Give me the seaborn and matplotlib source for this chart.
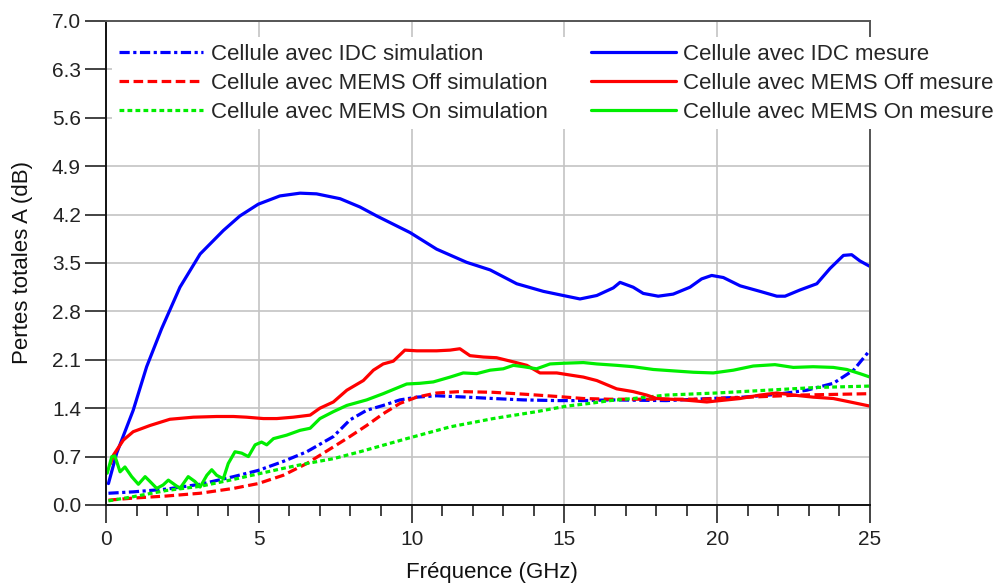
import numpy as np
import pandas as pd
import seaborn as sns
import matplotlib.pyplot as plt
from matplotlib.ticker import MultipleLocator

# --- donnees (GHz, dB) ---
idc_mes_x = [0.08, 0.35, 0.89, 1.33, 1.82, 2.42, 3.08, 3.84, 4.38, 4.98, 5.69, 6.35, 6.89, 7.66,
             8.31, 8.86, 9.95, 10.82, 11.80, 12.57, 13.44, 14.31, 14.96, 15.51, 16.06, 16.60,
             16.82, 17.25, 17.58, 18.07, 18.56, 19.11, 19.49, 19.82, 20.20, 20.75, 21.40, 21.95,
             22.22, 22.71, 23.26, 23.69, 24.13, 24.40, 24.67, 25.0]
idc_mes_y = [0.31, 0.75, 1.37, 2.0, 2.55, 3.15, 3.63, 3.97, 4.18, 4.35, 4.47, 4.51, 4.50, 4.43,
             4.31, 4.18, 3.94, 3.70, 3.51, 3.40, 3.20, 3.09, 3.03, 2.98, 3.03, 3.14,
             3.22, 3.15, 3.06, 3.02, 3.05, 3.15, 3.27, 3.32, 3.29, 3.17, 3.09, 3.02,
             3.02, 3.11, 3.20, 3.42, 3.61, 3.62, 3.53, 3.45]

off_mes_x = [0.15, 0.24, 0.57, 0.89, 1.44, 2.09, 2.86, 3.62, 4.17, 4.60, 5.15, 5.59, 6.13, 6.68,
             7.0, 7.44, 7.88, 8.42, 8.75, 9.07, 9.40, 9.78, 10.17, 10.82, 11.26, 11.58, 11.91,
             12.35, 12.78, 13.33, 13.77, 14.20, 14.75, 15.18, 15.62, 16.06, 16.71, 17.25, 17.69,
             18.02, 18.89, 19.66, 20.09, 20.75, 21.40, 21.95, 22.49, 23.14, 23.80, 24.35, 25.0]
off_mes_y = [0.60, 0.72, 0.94, 1.06, 1.15, 1.24, 1.27, 1.28, 1.28, 1.27, 1.25, 1.25, 1.27, 1.30,
             1.40, 1.49, 1.66, 1.80, 1.95, 2.04, 2.08, 2.24, 2.23, 2.23, 2.24, 2.26, 2.16,
             2.14, 2.13, 2.07, 2.02, 1.91, 1.91, 1.88, 1.85, 1.80, 1.68, 1.64, 1.59,
             1.54, 1.52, 1.49, 1.51, 1.54, 1.59, 1.62, 1.59, 1.56, 1.54, 1.49, 1.43]

on_mes_x = [0.04, 0.19, 0.29, 0.46, 0.62, 0.84, 1.06, 1.28, 1.44, 1.66, 1.87, 2.04, 2.26, 2.42,
            2.69, 2.91, 3.08, 3.30, 3.46, 3.62, 3.84, 4.00, 4.22, 4.44, 4.66, 4.88, 5.09, 5.26,
            5.48, 5.91, 6.35, 6.68, 7.0, 7.44, 7.88, 8.53, 9.07, 9.40, 9.84, 10.27, 10.71,
            11.26, 11.69, 12.13, 12.57, 13.0, 13.33, 13.66, 14.09, 14.53, 14.96, 15.62, 16.06,
            16.71, 17.25, 17.91, 18.56, 19.22, 19.87, 20.53, 21.18, 21.89, 22.49, 23.14, 23.80,
            24.24, 24.67, 25.0]
on_mes_y = [0.46, 0.70, 0.71, 0.48, 0.55, 0.41, 0.30, 0.41, 0.34, 0.24, 0.29, 0.36, 0.29, 0.24,
            0.41, 0.34, 0.26, 0.43, 0.51, 0.43, 0.38, 0.60, 0.77, 0.75, 0.70, 0.87, 0.91, 0.87,
            0.96, 1.01, 1.08, 1.11, 1.25, 1.35, 1.44, 1.52, 1.61, 1.67, 1.75, 1.76, 1.78,
            1.85, 1.91, 1.90, 1.95, 1.97, 2.02, 2.00, 1.97, 2.04, 2.05, 2.06, 2.04,
            2.02, 2.00, 1.96, 1.94, 1.92, 1.91, 1.95, 2.01, 2.03, 1.99, 2.00, 1.99,
            1.96, 1.90, 1.85]

idc_sim_x = [0.08, 0.89, 1.98, 3.08, 4.17, 4.98, 5.80, 6.57, 7.44, 7.98, 8.53, 9.07, 9.62, 10.17,
             10.82, 11.80, 12.67, 13.66, 14.75, 15.62, 16.49, 18.34, 19.76, 20.86, 21.95, 22.93,
             23.80, 24.46, 25.0]
idc_sim_y = [0.17, 0.19, 0.23, 0.30, 0.41, 0.50, 0.63, 0.77, 0.99, 1.23, 1.37, 1.44, 1.52, 1.56,
             1.58, 1.56, 1.54, 1.52, 1.51, 1.51, 1.52, 1.51, 1.54, 1.56, 1.60, 1.66,
             1.76, 1.95, 2.24]

off_sim_x = [0.08, 0.89, 1.98, 3.08, 4.17, 4.98, 5.80, 6.57, 7.44, 7.98, 8.53, 9.07, 9.62, 10.17,
             10.82, 11.58, 12.67, 13.77, 14.75, 15.62, 16.49, 17.80, 19.44, 21.07, 22.71, 25.0]
off_sim_y = [0.07, 0.10, 0.13, 0.17, 0.24, 0.31, 0.43, 0.60, 0.84, 0.99, 1.15, 1.32, 1.47, 1.56,
             1.62, 1.64, 1.63, 1.60, 1.57, 1.54, 1.53, 1.53, 1.53, 1.56, 1.59, 1.61]

on_sim_x = [0.08, 0.89, 1.98, 3.08, 4.17, 4.98, 5.80, 6.57, 7.44, 8.31, 9.84, 11.26, 12.67, 14.09,
            15.07, 15.84, 16.49, 17.25, 18.34, 19.98, 21.62, 23.26, 25.0]
on_sim_y = [0.06, 0.12, 0.21, 0.27, 0.37, 0.45, 0.53, 0.60, 0.67, 0.77, 0.96, 1.13, 1.25, 1.35,
            1.43, 1.47, 1.51, 1.54, 1.59, 1.62, 1.66, 1.70, 1.72]

y_ticks = [0.0, 0.7, 1.4, 2.1, 2.8, 3.5, 4.2, 4.9, 5.6, 6.3, 7.0]

sns.set_style("white")
plt.rcParams['font.family'] = ['Liberation Sans', 'DejaVu Sans']

fig = plt.figure(figsize=(10.08, 5.86), dpi=100)
ax = fig.add_axes([106 / 1008, 1 - 505 / 586, 764 / 1008, 484 / 586])

blue, red, green = '#0000ff', '#ff0000', '#00ee00'
lw = 2.3

# simulations
sns.lineplot(x=idc_sim_x, y=idc_sim_y, ax=ax, color=blue, lw=lw,
             label='Cellule avec IDC simulation').lines[-1].set_dashes([3.2, 1.1, 1.0, 1.1])
sns.lineplot(x=off_sim_x, y=off_sim_y, ax=ax, color=red, lw=lw,
             label='Cellule avec MEMS Off simulation').lines[-1].set_dashes([3.0, 1.4])
sns.lineplot(x=on_sim_x, y=on_sim_y, ax=ax, color=green, lw=lw,
             label='Cellule avec MEMS On simulation').lines[-1].set_dashes([1.5, 1.0])
# mesures
sns.lineplot(x=idc_mes_x, y=idc_mes_y, ax=ax, color=blue, lw=lw, label='Cellule avec IDC mesure')
sns.lineplot(x=off_mes_x, y=off_mes_y, ax=ax, color=red, lw=lw, label='Cellule avec MEMS Off mesure')
sns.lineplot(x=on_mes_x, y=on_mes_y, ax=ax, color=green, lw=lw, label='Cellule avec MEMS On mesure')

ax.set_xlim(0, 25)
ax.set_ylim(0, 7.0)
ax.xaxis.set_major_locator(MultipleLocator(5))
ax.xaxis.set_minor_locator(MultipleLocator(1))
ax.set_yticks(y_ticks)
ax.set_yticklabels([f'{v:.1f}' for v in y_ticks])

ax.grid(True, which='major', color='#c4c4c4', lw=1.2)
ax.tick_params(axis='x', which='major', direction='out', length=13, width=1.2, pad=5,
               labelsize=15, colors='#222222', bottom=True)
ax.tick_params(axis='x', which='minor', direction='out', length=8, width=1.2, bottom=True,
               colors='#222222')
ax.tick_params(axis='y', which='major', direction='out', length=15, width=1.2, pad=3,
               labelsize=15, colors='#222222', left=True)

for s in ['left', 'bottom']:
    ax.spines[s].set_color('#111111')
    ax.spines[s].set_linewidth(1.4)
for s in ['top', 'right']:
    ax.spines[s].set_color('#555555')
    ax.spines[s].set_linewidth(1.4)

ax.set_xlabel('Fréquence (GHz)', fontsize=16, color='#111111')
ax.set_ylabel('Pertes totales A (dB)', fontsize=16, color='#111111')
ax.xaxis.set_label_coords(0.505, -0.118)
ax.yaxis.set_label_coords(-0.0955, 0.5)

leg = ax.legend(ncol=2, loc='upper left', bbox_to_anchor=(112 / 1008, 1 - 37 / 586),
                bbox_transform=fig.transFigure, fontsize=16, frameon=True, fancybox=False,
                framealpha=1, facecolor='white', edgecolor='none', handlelength=3.8,
                handletextpad=0.35, columnspacing=1.95, labelspacing=0.36, borderpad=0.3,
                borderaxespad=0)
leg.set_zorder(5)

fig.savefig('out.png', dpi=100)
